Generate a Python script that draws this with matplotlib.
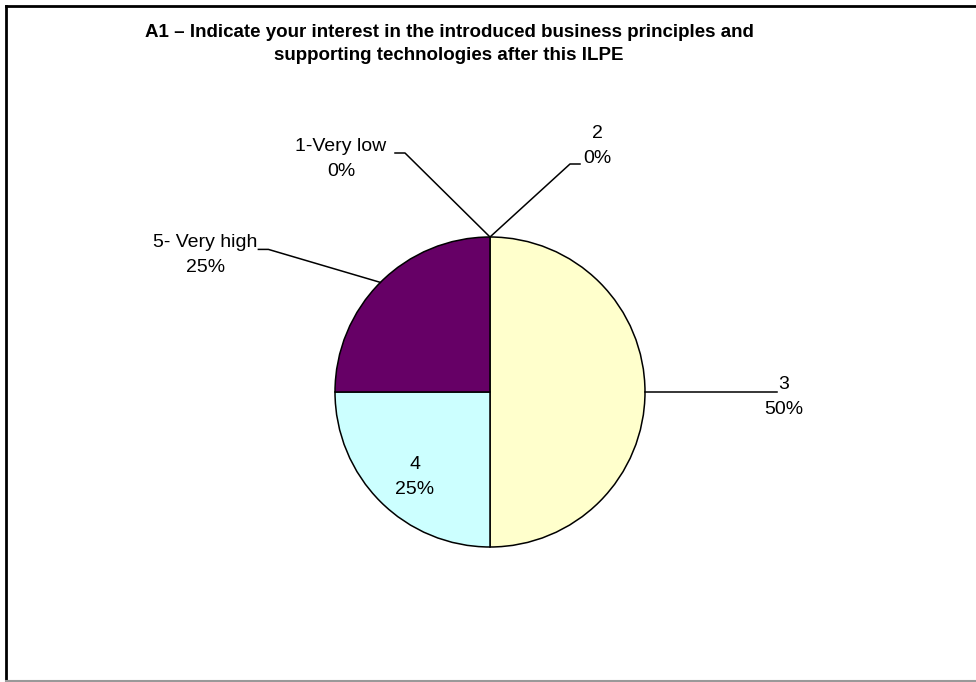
import matplotlib.pyplot as plt
import numpy as np
from matplotlib.lines import Line2D

# data
labels = ['1-Very low', '2', '3', '4', '5- Very high']
shares = [0, 0, 50, 25, 25]
colors = ['#9999FF', '#993366', '#FFFFCC', '#CCFFFF', '#660066']
title = ('A1 \u2013 Indicate your interest in the introduced business principles and\n'
         'supporting technologies after this ILPE')

plt.rcParams['font.family'] = ['Liberation Sans', 'DejaVu Sans']

W, H = 976, 682
cx, cy, R = 490, 392, 155   # pie centre / radius in pixels

fig = plt.figure(figsize=(W / 100, H / 100), dpi=100)
fig.patch.set_facecolor('white')
ax = fig.add_axes([0, 0, 1, 1])

wedges, _ = ax.pie(shares, colors=colors, startangle=90, counterclock=False,
                   wedgeprops=dict(edgecolor='black', linewidth=1.1))
ax.set_xlim(-cx / R, (W - cx) / R)
ax.set_ylim(-(H - cy) / R, cy / R)
ax.axis('off')

# leader-line elbows and text offsets (pixels from the slice edge point)
layout = {
    0: dict(elbow=(-85, 84), tail=-10, text=(-149, 78)),
    1: dict(elbow=(80, 73), tail=10, text=(107, 91)),
    2: dict(elbow=(132, 0), tail=0, text=(139, -5)),
    3: dict(inside=(-75, -85)),
    4: dict(elbow=(-112, 33), tail=-10, text=(-175, 27)),
}

fs = 14
ls = 1.62
tot = float(sum(shares))
ang0 = 90.0
for i, (lab, v) in enumerate(zip(labels, shares)):
    mid = ang0 - 360 * v / tot / 2
    ang0 -= 360 * v / tot
    ex, ey = np.cos(np.radians(mid)), np.sin(np.radians(mid))
    pct = '%d%%' % round(100 * v / tot)
    lo = layout[i]
    if 'inside' in lo:
        ax.text(lo['inside'][0] / R, lo['inside'][1] / R, lab + '\n' + pct,
                ha='center', va='center', fontsize=fs, linespacing=ls)
        continue
    bx = ex + lo['elbow'][0] / R
    by = ey + lo['elbow'][1] / R
    ax.plot([ex, bx, bx + lo['tail'] / R], [ey, by, by], color='black', lw=1.1,
            clip_on=False)
    tx = ex + lo['text'][0] / R
    ty = ey + lo['text'][1] / R
    ax.text(tx, ty, lab + '\n' + pct, ha='center', va='center', fontsize=fs,
            linespacing=ls)

fig.text(449 / W, 1 - 44 / H, title, ha='center', va='center', fontsize=13.5,
         fontweight='bold', linespacing=1.45)

# chart frame (right side lies outside the picture)
fig.add_artist(Line2D([5.5 / W, 5.5 / W], [1 - 5.5 / H, 0], color='black', lw=2))
fig.add_artist(Line2D([5.5 / W, 1], [1 - 5.5 / H, 1 - 5.5 / H], color='black', lw=2))
fig.add_artist(Line2D([5.5 / W, 1], [0.8 / H, 0.8 / H], color='#999999', lw=1.5))

plt.savefig('out.png', dpi=100, facecolor='white')
plt.close()
